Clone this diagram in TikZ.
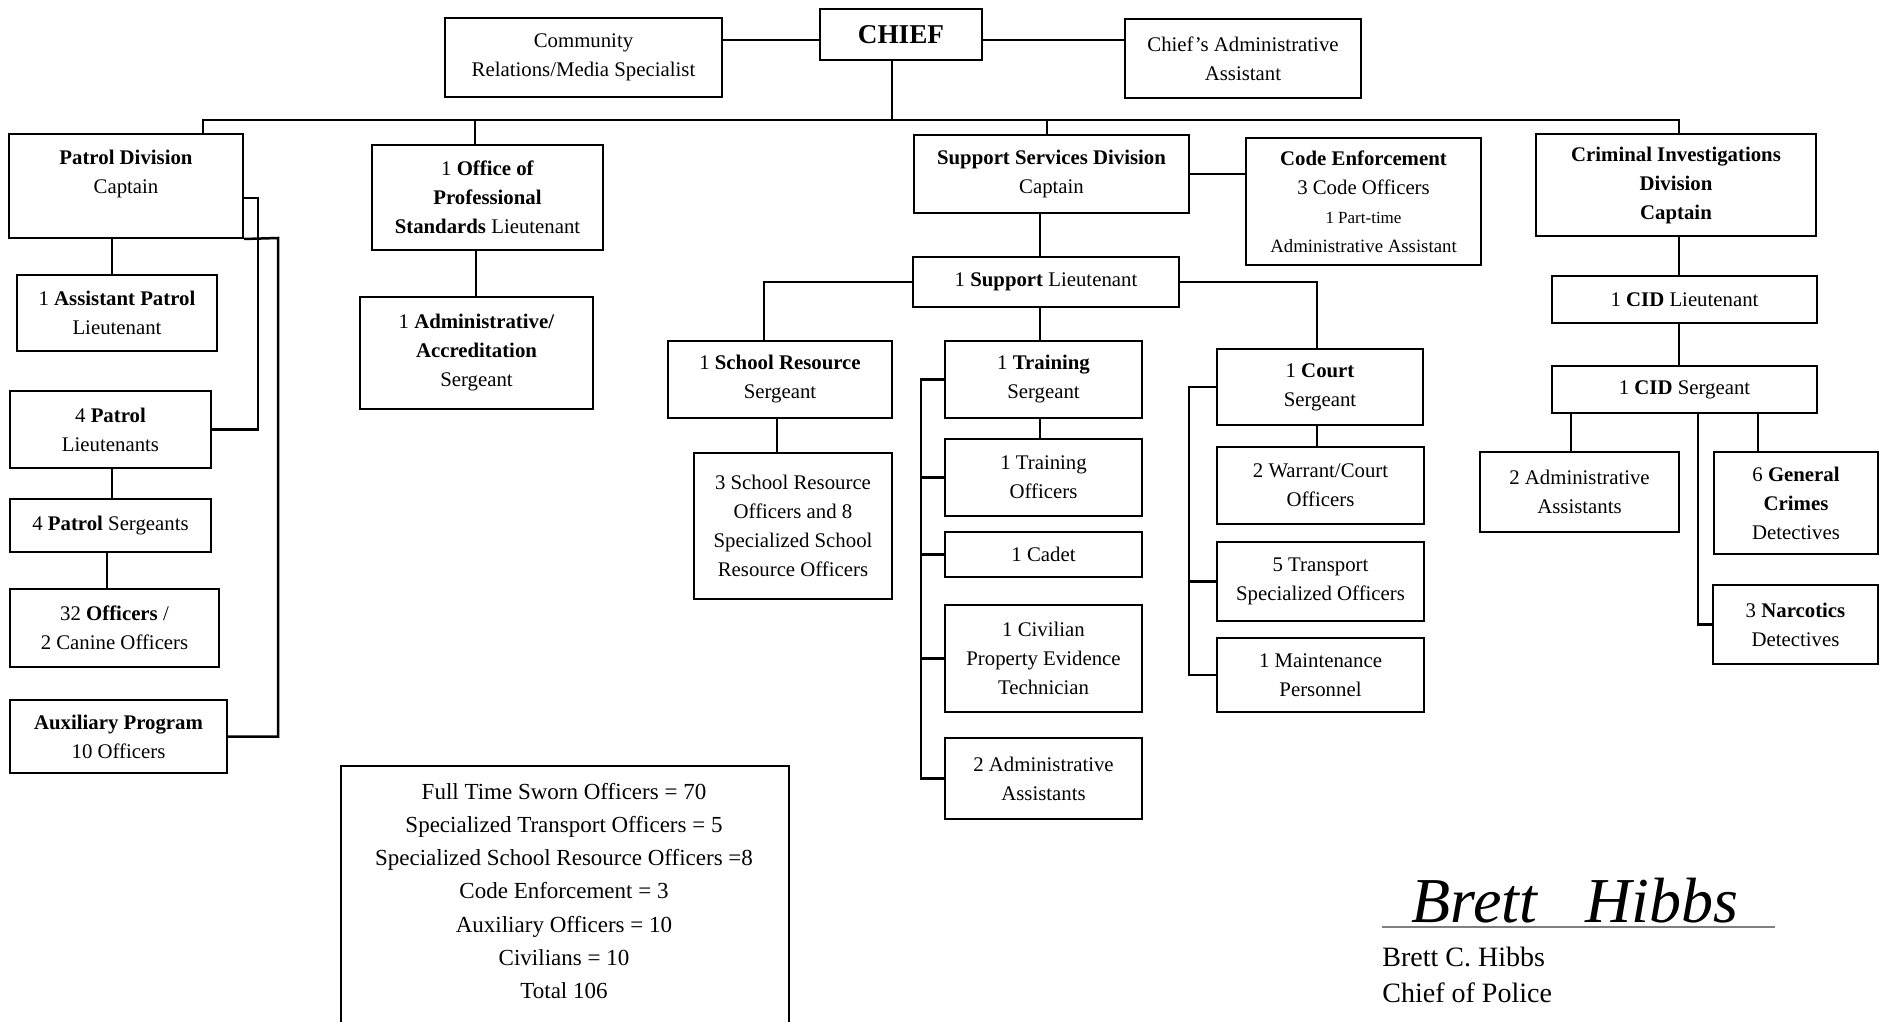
\documentclass[tikz,border=0pt]{standalone}
\usepackage{fontspec}
\setmainfont{Liberation Serif}
\newcommand\bx[6]{\node[box, minimum width={(#4-#2)*0.5pt}, minimum height={(#5-#3)*0.5pt}] (#1) at ({(#2+#4)/2},{(#3+#5)/2}) {#6};}
\begin{document}
\begin{tikzpicture}[x=0.5pt,y=-0.5pt,
  box/.style={draw, line width=1pt, inner sep=0pt, align=center, font=\fontsize{10.4}{14.5}\selectfont},
  conn/.style={line width=1.25pt}]
\useasboundingbox (0,0) rectangle (1880,1022);
\fill[white] (0,0) rectangle (1880,1022);
\clip (0,0) rectangle (1880,1022);

% top level
\bx{chief}{820}{9}{982}{60}{\fontsize{13.6}{16}\selectfont\textbf{CHIEF}}
\bx{comm}{445}{18}{722}{97}{Community\\Relations/Media Specialist}
\bx{cadmin}{1125}{19}{1361}{98}{Chief's Administrative\\Assistant}

% divisions
\bx{patrol}{9}{134}{243}{238}{\textbf{Patrol Division}\\Captain\\~}
\bx{ops}{372}{145}{603}{250}{1 \textbf{Office of}\\\textbf{Professional}\\\textbf{Standards} Lieutenant}
\bx{ssd}{914}{135}{1189}{213}{\textbf{Support Services Division}\\Captain}
\bx{ce}{1246}{138}{1481}{265}{\textbf{Code Enforcement}\\3 Code Officers\\{\fontsize{8.5}{14.5}\selectfont 1 Part-time}\\{\fontsize{9.4}{14.5}\selectfont Administrative Assistant}}
\bx{cid}{1536}{134}{1816}{236}{\textbf{Criminal Investigations}\\\textbf{Division}\\\textbf{Captain}}

% patrol column
\bx{asstpat}{17}{275}{217}{351}{1 \textbf{Assistant Patrol}\\Lieutenant}
\bx{patlt}{10}{391}{211}{468}{4 \textbf{Patrol}\\Lieutenants}
\bx{patsgt}{10}{499}{211}{552}{4 \textbf{Patrol} Sergeants}
\bx{officers}{10}{589}{219}{667}{32 \textbf{Officers} /\\2 Canine Officers}
\bx{aux}{10}{700}{227}{773}{\textbf{Auxiliary Program}\\10 Officers}

% OPS
\bx{accred}{360}{297}{593}{409}{1 \textbf{Administrative/}\\\textbf{Accreditation}\\Sergeant}

% support
\bx{suplt}{913}{257}{1179}{307}{1 \textbf{Support} Lieutenant}
\bx{srs}{668}{341}{892}{418}{1 \textbf{School Resource}\\Sergeant}
\bx{sro}{694}{453}{892}{599}{3 School Resource\\Officers and 8\\Specialized School\\Resource Officers}
\bx{trsgt}{945}{341}{1142}{418}{1 \textbf{Training}\\Sergeant}
\bx{trof}{945}{439}{1142}{516}{1 Training\\Officers}
\bx{cadet}{945}{532}{1142}{577}{1 Cadet}
\bx{civ}{945}{605}{1142}{712}{1 Civilian\\Property Evidence\\Technician}
\bx{tradm}{945}{738}{1142}{819}{2 Administrative\\Assistants}
\bx{court}{1217}{349}{1423}{425}{1 \textbf{Court}\\Sergeant}
\bx{warrant}{1217}{447}{1424}{524}{2 Warrant/Court\\Officers}
\bx{transport}{1217}{542}{1424}{621}{5 Transport\\Specialized Officers}
\bx{maint}{1217}{638}{1424}{712}{1 Maintenance\\Personnel}

% CID
\bx{cidlt}{1552}{276}{1817}{323}{1 \textbf{CID} Lieutenant}
\bx{cidsgt}{1552}{366}{1817}{413}{1 \textbf{CID} Sergeant}
\bx{cidadm}{1480}{452}{1679}{532}{2 Administrative\\Assistants}
\bx{gencr}{1714}{452}{1878}{554}{6 \textbf{General}\\\textbf{Crimes}\\Detectives}
\bx{narc}{1713}{585}{1878}{664}{3 \textbf{Narcotics}\\Detectives}

% stats
\node[draw, line width=1pt, minimum width=224pt, minimum height=160pt, anchor=north west, inner sep=0pt] (stats) at (340,765) {};
\node[align=center, font=\fontsize{11.5}{16.6}\selectfont] (statstext) at (564,891) {Full Time Sworn Officers = 70\\Specialized Transport Officers = 5\\Specialized School Resource Officers =8\\Code Enforcement = 3\\Auxiliary Officers = 10\\Civilians = 10\\Total 106};

% signature
\node[font=\fontsize{32}{36}\selectfont\itshape, anchor=base] (sigscript) at (1575,922) {Brett\enspace\ Hibbs};
\coordinate (sigL) at (1382,927);
\coordinate (sigR) at (1775,927);
\draw[gray, line width=0.8pt] (sigL) -- (sigR);
\node[align=left, anchor=west, font=\fontsize{14}{18}\selectfont, inner sep=0pt] (signame) at (1382,975) {Brett C. Hibbs\\Chief of Police};

% connectors top
\coordinate (chiefline) at (0,40);
\draw[conn] (chief.west |- chiefline) -- (comm.east |- chiefline);
\draw[conn] (chief.east |- chiefline) -- (cadmin.west |- chiefline);
\coordinate (busL) at (203,120);
\coordinate (busR) at (1679,120);
\coordinate (chiefdrop) at (892,120);
\draw[conn] (chiefdrop |- chief.south) -- (chiefdrop);
\draw[conn] (busL |- patrol.north) -- (busL) -- (busR) -- (busR |- cid.north);
\coordinate (opsdrop) at (475,120);
\draw[conn] (opsdrop) -- (opsdrop |- ops.north);
\coordinate (ssddrop) at (1047,120);
\draw[conn] (ssddrop) -- (ssddrop |- ssd.north);

% patrol connectors
\coordinate (pspine) at (112,0);
\draw[conn] (pspine |- patrol.south) -- (pspine |- asstpat.north);
\draw[conn] (pspine |- patlt.south) -- (pspine |- patsgt.north);
\coordinate (pspineb) at (107,0);
\draw[conn] (pspineb |- patsgt.south) -- (pspineb |- officers.north);
\coordinate (sidea) at (258,198);
\draw[conn] (sidea -| patrol.east) -- (sidea) -- (sidea |- patlt.east) -- (patlt.east);
\coordinate (sideb) at (278,238);
\draw[conn] (patrol.south east) -- (sideb) -- (sideb |- aux.east) -- (aux.east);

% OPS
\coordinate (opsv) at (476,0);
\draw[conn] (opsv |- ops.south) -- (opsv |- accred.north);

% support
\draw[conn] (ssd.east) -- (ssd.east -| ce.west);
\coordinate (supv) at (1040,0);
\draw[conn] (supv |- ssd.south) -- (supv |- suplt.north);
\draw[conn] (supv |- suplt.south) -- (supv |- trsgt.north);
\draw[conn] (supv |- trsgt.south) -- (supv |- trof.north);
\coordinate (srv) at (764,0);
\draw[conn] (suplt.west) -- (suplt.west -| srv) -- (srv |- srs.north);
\coordinate (crv) at (1317,0);
\draw[conn] (suplt.east) -- (suplt.east -| crv) -- (crv |- court.north);
\draw[conn] (crv |- court.south) -- (crv |- warrant.north);
\coordinate (srov) at (777,0);
\draw[conn] (srov |- srs.south) -- (srov |- sro.north);
\coordinate (tb) at (921,0);
\draw[conn] (trsgt.west) -- (trsgt.west -| tb) -- (tb |- tradm.west) -- (tradm.west);
\foreach \n in {trof,cadet,civ} \draw[conn] (\n.west) -- (\n.west -| tb);
\coordinate (cb) at (1189,0);
\draw[conn] (court.west) -- (court.west -| cb) -- (cb |- maint.west) -- (maint.west);
\draw[conn] (transport.west) -- (transport.west -| cb);

% CID
\coordinate (cidv) at (1679,0);
\draw[conn] (cidv |- cid.south) -- (cidv |- cidlt.north);
\draw[conn] (cidv |- cidlt.south) -- (cidv |- cidsgt.north);
\coordinate (cav) at (1571,0);
\draw[conn] (cav |- cidsgt.south) -- (cav |- cidadm.north);
\coordinate (cgv) at (1758,0);
\draw[conn] (cgv |- cidsgt.south) -- (cgv |- gencr.north);
\coordinate (cnv) at (1698,0);
\draw[conn] (cnv |- cidsgt.south) -- (cnv |- narc.west) -- (narc.west);
\end{tikzpicture}
\end{document}
